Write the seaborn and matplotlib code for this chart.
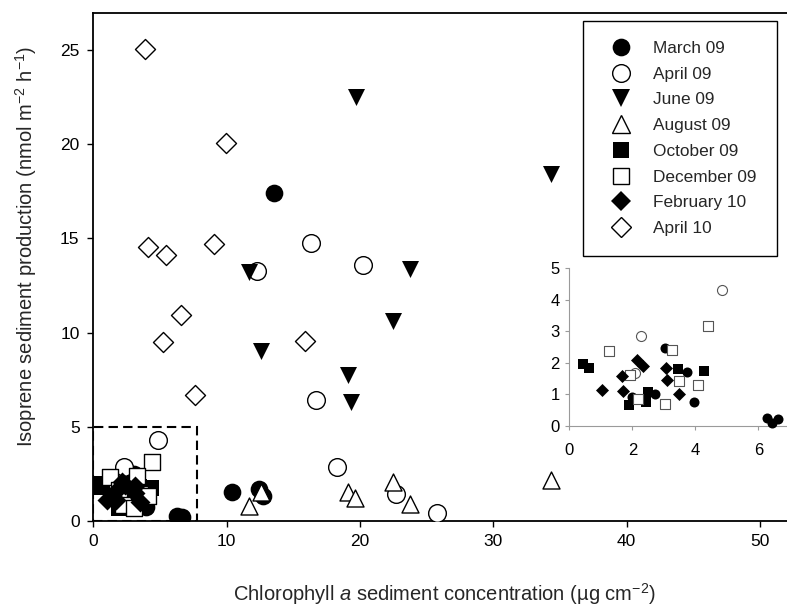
import numpy as np
import pandas as pd
import matplotlib
matplotlib.use("Agg")
import matplotlib.pyplot as plt
import seaborn as sns
from matplotlib.lines import Line2D
from matplotlib.patches import Rectangle

# ---------------- data ----------------
months = ["March 09", "April 09", "June 09", "August 09",
          "October 09", "December 09", "February 10", "April 10"]

mar09_x = [13.56, 10.40, 12.43, 12.73, 3.04, 3.75, 1.98, 2.72, 3.97, 6.27, 6.43, 6.63]
mar09_y = [17.43, 1.54, 1.69, 1.33, 2.47, 1.70, 0.93, 1.00, 0.76, 0.24, 0.08, 0.21]

apr09_x = [16.30, 20.20, 12.23, 16.67, 18.25, 22.68, 25.76, 4.86, 2.28, 2.09]
apr09_y = [14.77, 13.60, 13.26, 6.42, 2.87, 1.42, 0.41, 4.30, 2.86, 1.67]

jun09_x = [19.70, 34.30, 23.76, 11.68, 22.45, 12.60, 19.12, 19.32]
jun09_y = [22.50, 18.40, 13.40, 13.20, 10.64, 9.04, 7.77, 6.30]

aug09_x = [11.68, 12.60, 19.12, 19.62, 22.45, 23.76, 34.30]
aug09_y = [0.80, 1.56, 1.56, 1.24, 2.09, 0.89, 2.16]

oct09_x = [0.43, 0.62, 3.44, 4.28, 2.51, 2.45, 1.90]
oct09_y = [1.96, 1.83, 1.81, 1.75, 1.07, 0.75, 0.67]

dec09_x = [4.41, 1.26, 3.25, 1.93, 3.47, 4.10, 2.19, 3.04]
dec09_y = [3.15, 2.36, 2.40, 1.62, 1.41, 1.31, 0.86, 0.71]

feb10_x = [2.15, 2.34, 3.08, 1.67, 3.10, 1.03, 1.71, 3.48]
feb10_y = [2.08, 1.90, 1.85, 1.59, 1.46, 1.14, 1.12, 1.00]

apr10_x = [3.83, 9.92, 4.08, 5.41, 9.05, 15.86, 6.54, 5.21, 7.65]
apr10_y = [25.05, 20.07, 14.54, 14.10, 14.70, 9.57, 10.94, 9.49, 6.70]

xs = [mar09_x, apr09_x, jun09_x, aug09_x, oct09_x, dec09_x, feb10_x, apr10_x]
ys = [mar09_y, apr09_y, jun09_y, aug09_y, oct09_y, dec09_y, feb10_y, apr10_y]

main_xticks = [0, 10, 20, 30, 40, 50]
main_yticks = [0, 5, 10, 15, 20, 25]
inset_xticks = [0, 2, 4, 6]
inset_yticks = [0, 1, 2, 3, 4, 5]
zoom_box = (7.77, 5.0)   # dashed box: x extent, y extent

df = pd.concat([pd.DataFrame({"chl": x, "iso": y, "month": m})
                for m, x, y in zip(months, xs, ys)], ignore_index=True)

# ---------------- styles ----------------
markers = ["o", "o", "v", "^", "s", "s", "D", "D"]
filled = [True, False, True, False, True, False, True, False]
size_main = {"o": 162, "v": 150, "^": 150, "s": 128, "D": 104}
size_inset = {"o": 52, "v": 48, "^": 48, "s": 45, "D": 44}

sns.set_style("ticks")
plt.rcParams["font.family"] = ["Liberation Sans", "DejaVu Sans"]
plt.rcParams["mathtext.fontset"] = "custom"
plt.rcParams["mathtext.rm"] = "Liberation Sans"
plt.rcParams["mathtext.it"] = "Liberation Sans:italic"
plt.rcParams["mathtext.bf"] = "Liberation Sans:bold"

fig = plt.figure(figsize=(7.87, 6.06), dpi=100)
ax = fig.add_axes([0.1188, 0.1403, 0.8812, 0.8382])

for m, mk, fl in zip(months, markers, filled):
    d = df[df["month"] == m]
    sns.scatterplot(data=d, x="chl", y="iso", marker=mk, s=size_main[mk],
                    color="black",
                    facecolor="black" if fl else "white",
                    edgecolor="black", linewidth=0 if fl else 1.0,
                    ax=ax, legend=False, zorder=3)

ax.add_patch(Rectangle((0, 0), zoom_box[0], zoom_box[1], fill=False,
                       ec="black", lw=1.5, ls=(0, (4.5, 2.5)), zorder=2))

ax.set_xlim(0, 52.03)
ax.set_ylim(0, 26.97)
ax.set_xticks(main_xticks)
ax.set_yticks(main_yticks)
ax.tick_params(axis="both", direction="out", length=4.5, width=1.0,
               labelsize=12.5, colors="black")
ax.tick_params(axis="x", pad=5)
ax.tick_params(axis="y", pad=5.5)
for s in ["top", "left", "bottom"]:
    ax.spines[s].set_color("black")
    ax.spines[s].set_linewidth(1.3)
ax.spines["right"].set_visible(False)

ax.set_xlabel("Chlorophyll $\\mathit{a}$ sediment concentration (\u00b5g cm$^{-2}$)",
              fontsize=14.5)
ax.set_ylabel("Isoprene sediment production (nmol m$^{-2}$ h$^{-1}$)",
              fontsize=14.5)
ax.xaxis.set_label_coords(0.5065, -0.118)
ax.yaxis.set_label_coords(-0.079, 0.54)

# legend
handles = []
for mk, fl in zip(markers, filled):
    handles.append(Line2D([], [], linestyle="none", marker=mk,
                          markersize=np.sqrt(size_main[mk]),
                          markerfacecolor="black" if fl else "white",
                          markeredgecolor="black",
                          markeredgewidth=0 if fl else 1.0))
leg = ax.legend(handles, months, loc="upper left", bbox_to_anchor=(0.706, 0.984),
                fontsize=12.4, frameon=True, fancybox=False, framealpha=1,
                edgecolor="black", borderpad=1.15, labelspacing=0.62,
                handlelength=2.12, handletextpad=0.8, borderaxespad=0)
leg.get_frame().set_linewidth(1.0)

# inset
axin = fig.add_axes([0.7234, 0.297, 0.2766, 0.2607])
axin.patch.set_alpha(0)
sub = df[(df["chl"] <= zoom_box[0]) & (df["iso"] <= zoom_box[1])]
for m, mk, fl in zip(months, markers, filled):
    d = sub[sub["month"] == m]
    if d.empty:
        continue
    sns.scatterplot(data=d, x="chl", y="iso", marker=mk, s=size_inset[mk],
                    color="black",
                    facecolor="black" if fl else "white",
                    edgecolor="black" if fl else "#555555",
                    linewidth=0 if fl else 0.8,
                    ax=axin, legend=False, zorder=3, clip_on=False)
axin.set_xlim(0, 6.91)
axin.set_ylim(0, 5)
axin.set_xticks(inset_xticks)
axin.set_yticks(inset_yticks)
axin.set_xlabel("")
axin.set_ylabel("")
for s in ["top", "right"]:
    axin.spines[s].set_visible(False)
for s in ["left", "bottom"]:
    axin.spines[s].set_color("#9a9a9a")
    axin.spines[s].set_linewidth(0.8)
axin.tick_params(axis="both", direction="out", length=3, width=0.8,
                 color="#9a9a9a", labelcolor="black", labelsize=12)
axin.tick_params(axis="x", pad=9.5)
axin.tick_params(axis="y", pad=4)

fig.savefig("out.png", dpi=100)
